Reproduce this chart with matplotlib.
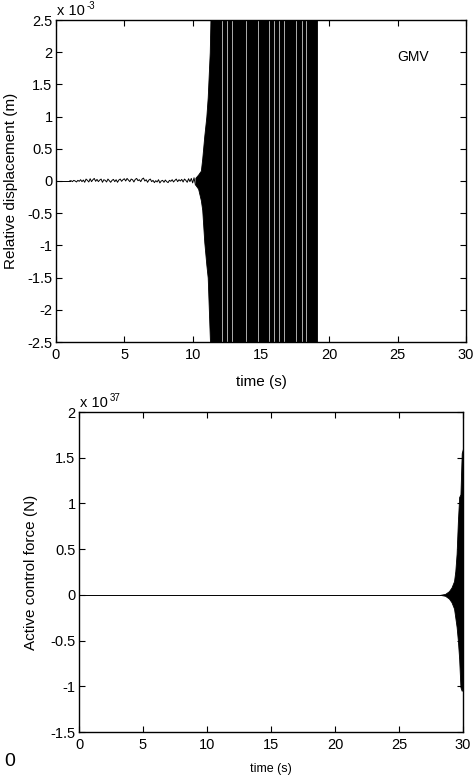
import numpy as np
import matplotlib
matplotlib.use("Agg")
import matplotlib.pyplot as plt

plt.rcParams['font.family'] = ['Liberation Sans', 'DejaVu Sans']
plt.rcParams['axes.unicode_minus'] = False

# ---------------- data: top panel (relative displacement, units of 1e-3 m) ----
quiet_t = [0.0, 1.0]
quiet_x = [0.0, 0.0]

noise_t0 = 1.0
noise_dt = 0.1
noise_x = [0, 0.005, -0.01, 0.01, 0.0, -0.015, 0.01, -0.005, 0.02, -0.01,
           0.015, -0.02, 0.03, 0.01, -0.015, 0.035, -0.01, 0.02, 0.04, -0.005,
           0.025, -0.01, 0.015, 0.03, -0.02, 0.02, 0.01, -0.015, 0.03, 0.005,
           -0.02, 0.01, 0.025, -0.01, 0.02, -0.02, 0.015, 0.03, -0.005, 0.02,
           0.035, 0.0, 0.04, 0.015, -0.01, 0.03, 0.02, -0.015, 0.025, 0.04,
           0.005, 0.02, -0.01, 0.03, 0.045, 0.0, 0.02, -0.02, 0.015, 0.03,
           -0.01, 0.01, -0.025, 0.005, -0.015, 0.02, -0.03, 0.0, 0.01, -0.02,
           0.015, -0.01, -0.025, 0.01, -0.005, 0.02, -0.015, 0.01, 0.03, -0.01,
           0.02, 0.0, 0.025, -0.015, 0.03, 0.01, -0.02, 0.035, -0.01, 0.04,
           -0.03, 0.05, -0.06]

burst_t = [10.2, 10.4, 10.6, 10.7, 10.85, 11.0, 11.1, 11.25, 11.35, 11.5, 18.9, 19.1]
burst_hi = [0.05, 0.10, 0.16, 0.35, 0.70, 1.00, 1.30, 2.00, 3.00, 6.00, 6.00, 6.00]
burst_lo = [-0.06, -0.12, -0.30, -0.45, -0.95, -1.30, -1.50, -2.40, -3.00, -6.00, -6.00, -6.00]

# times inside the saturated burst where the trace leaves visible gaps
burst_gaps = [12.15, 12.5, 12.9, 13.9, 14.8, 15.6, 15.95, 16.3, 16.7, 17.55, 17.98, 18.3]

top_xticks = [0, 5, 10, 15, 20, 25, 30]
top_yticks = [-2.5, -2, -1.5, -1, -0.5, 0, 0.5, 1, 1.5, 2, 2.5]
top_ylabels = ['-2.5', '-2', '-1.5', '-1', '-0.5', '0', '0.5', '1', '1.5', '2', '2.5']

# ---------------- data: bottom panel (active control force, units of 1e37 N) --
flat_t = [0.0, 28.2]
flat_f = [0.0, 0.0]

grow_t = [28.2, 28.6, 28.9, 29.1, 29.3, 29.4, 29.5, 29.6, 29.7, 29.8, 29.9, 30.0]
grow_hi = [0.0, 0.01, 0.04, 0.08, 0.15, 0.26, 0.45, 0.80, 1.07, 1.10, 1.55, 1.60]
grow_lo = [0.0, -0.01, -0.04, -0.08, -0.15, -0.25, -0.35, -0.50, -0.70, -1.01, -1.05, -1.00]

bot_xticks = [0, 5, 10, 15, 20, 25, 30]
bot_yticks = [-1.5, -1, -0.5, 0, 0.5, 1, 1.5, 2]
bot_ylabels = ['-1.5', '-1', '-0.5', '0', '0.5', '1', '1.5', '2']

# ---------------- figure ------------------------------------------------------
W, H = 476, 780
fig = plt.figure(figsize=(W / 100, H / 100), dpi=100)

def style(ax):
    for s in ax.spines.values():
        s.set_linewidth(1.0)
        s.set_color('black')
    ax.tick_params(direction='in', top=True, right=True, length=4, width=0.8,
                   labelsize=10.5, colors='black')
    ax.tick_params(axis='x', pad=4.5)
    ax.tick_params(axis='y', pad=2.5)

def exponent(ax, power):
    ax.annotate('x 10', xy=(0, 1), xycoords='axes fraction',
                xytext=(1, 1.5), textcoords='offset points',
                fontsize=10.5, ha='left', va='bottom')
    ax.annotate(power, xy=(0, 1), xycoords='axes fraction',
                xytext=(22, 6.5), textcoords='offset points',
                fontsize=7, ha='left', va='bottom')

# top panel
ax1 = fig.add_axes([56 / W, 1 - 342 / H, 410 / W, 322 / H])
noise_tt = noise_t0 + noise_dt * np.arange(len(noise_x))
ax1.plot(quiet_t, quiet_x, color='black', lw=0.7)
ax1.plot(noise_tt, noise_x, color='black', lw=0.7)
ax1.fill_between(burst_t, burst_lo, burst_hi, color='black', lw=0.6)
ax1.vlines(burst_gaps, -2.5, 2.5, colors='#f0f0f0', lw=0.5)
ax1.set_xlim(0, 30)
ax1.set_ylim(-2.5, 2.5)
ax1.set_xticks(top_xticks)
ax1.set_xticklabels([str(v) for v in top_xticks])
ax1.set_yticks(top_yticks)
ax1.set_yticklabels(top_ylabels)
style(ax1)
ax1.set_xlabel('time (s)', fontsize=11)
ax1.xaxis.set_label_coords(0.5, -0.1025)
ax1.set_ylabel('Relative displacement (m)', fontsize=11)
ax1.yaxis.set_label_coords(-0.093, 0.5)
exponent(ax1, '-3')
ax1.text(26.1, 1.93, 'GMV', fontsize=10, ha='center', va='center')

# bottom panel
ax2 = fig.add_axes([79 / W, 1 - 732 / H, 384 / W, 320 / H])
ax2.plot(flat_t, flat_f, color='black', lw=0.7)
ax2.fill_between(grow_t, grow_lo, grow_hi, color='black', lw=0.6)
ax2.set_xlim(0, 30)
ax2.set_ylim(-1.5, 2)
ax2.set_xticks(bot_xticks)
ax2.set_xticklabels([str(v) for v in bot_xticks])
ax2.set_yticks(bot_yticks)
ax2.set_yticklabels(bot_ylabels)
style(ax2)
ax2.set_xlabel('time (s)', fontsize=9)
ax2.xaxis.set_label_coords(0.5, -0.097)
ax2.set_ylabel('Active control force (N)', fontsize=11)
ax2.yaxis.set_label_coords(-0.107, 0.5)
exponent(ax2, '37')

fig.text(10 / W, 1 - 762 / H, '0', fontsize=14, ha='center', va='center')

fig.savefig('out.png', dpi=100)
